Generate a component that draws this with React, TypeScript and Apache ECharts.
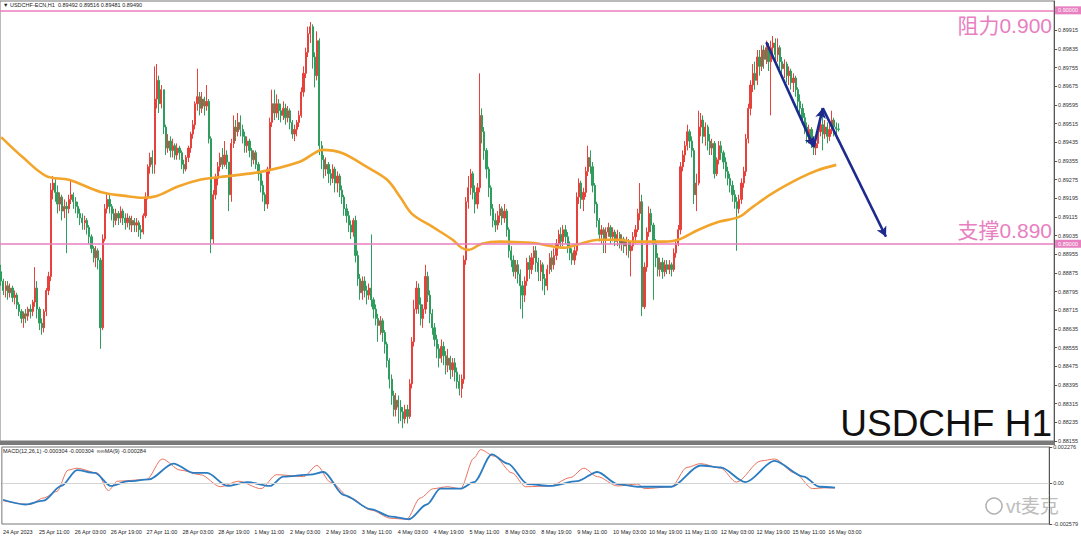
import React, { useEffect, useRef } from "react";
import * as echarts from "echarts";

// ---------- categories (hourly bars, weekends skipped) ----------
const tradingDays = ["24 Apr", "25 Apr", "26 Apr", "27 Apr", "28 Apr", "1 May", "2 May", "3 May", "4 May", "5 May", "8 May", "9 May", "10 May", "11 May", "12 May", "15 May", "16 May"];
const firstDayStartHour = 19;
const lastDayEndHour = 6;
const firstLabel = "24 Apr 2023";
const totalSlots = 467;
const labelEvery = 16;

// ---------- H1 candles (open = previous close) ----------
const firstOpen = 0.8888;
const closes = [
  0.8884, 0.8880, 0.8882, 0.8879, 0.8881, 0.8877, 0.8878, 0.8874, 0.8871, 0.8868,
  0.8870, 0.8869, 0.8872, 0.8871, 0.8875, 0.8881, 0.8872, 0.8866, 0.8864, 0.8871,
  0.8880, 0.8886, 0.8923, 0.8926, 0.8922, 0.8917, 0.8920, 0.8914, 0.8916, 0.8915,
  0.8919, 0.8921, 0.8918, 0.8916, 0.8913, 0.8911, 0.8909, 0.8910, 0.8907, 0.8903,
  0.8898, 0.8894, 0.8897, 0.8893, 0.8864, 0.8902, 0.8915, 0.8919, 0.8916, 0.8913,
  0.8910, 0.8913, 0.8911, 0.8914, 0.8911, 0.8909, 0.8911, 0.8908, 0.8910, 0.8908,
  0.8909, 0.8906, 0.8905, 0.8912, 0.8920, 0.8933, 0.8937, 0.8934, 0.8962, 0.8970,
  0.8960, 0.8966, 0.8950, 0.8941, 0.8944, 0.8940, 0.8942, 0.8938, 0.8941, 0.8939,
  0.8934, 0.8932, 0.8937, 0.8941, 0.8947, 0.8951, 0.8960, 0.8963, 0.8958, 0.8962,
  0.8959, 0.8961, 0.8945, 0.8902, 0.8921, 0.8928, 0.8933, 0.8937, 0.8934, 0.8938,
  0.8935, 0.8921, 0.8943, 0.8950, 0.8948, 0.8952, 0.8949, 0.8946, 0.8942, 0.8944,
  0.8940, 0.8936, 0.8939, 0.8934, 0.8930, 0.8925, 0.8921, 0.8917, 0.8932, 0.8952,
  0.8960, 0.8956, 0.8960, 0.8957, 0.8955, 0.8958, 0.8954, 0.8957, 0.8952, 0.8947,
  0.8949, 0.8952, 0.8955, 0.8965, 0.8973, 0.8982, 0.8990, 0.8993, 0.8980, 0.8972,
  0.8987, 0.8942, 0.8936, 0.8932, 0.8934, 0.8930, 0.8928, 0.8932, 0.8926, 0.8929,
  0.8923, 0.8920, 0.8915, 0.8912, 0.8908, 0.8905, 0.8910, 0.8895, 0.8885, 0.8879,
  0.8884, 0.8880, 0.8878, 0.8881, 0.8876, 0.8872, 0.8868, 0.8865, 0.8867, 0.8862,
  0.8857, 0.8850, 0.8842, 0.8835, 0.8829, 0.8833, 0.8830, 0.8828, 0.8825, 0.8829,
  0.8826, 0.8840, 0.8858, 0.8872, 0.8881, 0.8874, 0.8868, 0.8872, 0.8886, 0.8878,
  0.8870, 0.8864, 0.8859, 0.8855, 0.8851, 0.8856, 0.8852, 0.8848, 0.8851, 0.8846,
  0.8849, 0.8845, 0.8841, 0.8838, 0.8842, 0.8893, 0.8918, 0.8924, 0.8930, 0.8922,
  0.8917, 0.8924, 0.8955, 0.8948, 0.8940, 0.8932, 0.8924, 0.8915, 0.8910, 0.8908,
  0.8912, 0.8915, 0.8911, 0.8914, 0.8906, 0.8897, 0.8893, 0.8888, 0.8891, 0.8887,
  0.8882, 0.8878, 0.8884, 0.8892, 0.8889, 0.8894, 0.8897, 0.8892, 0.8888, 0.8891,
  0.8885, 0.8882, 0.8889, 0.8894, 0.8891, 0.8895, 0.8900, 0.8904, 0.8901, 0.8906,
  0.8903, 0.8899, 0.8896, 0.8893, 0.8897, 0.8920, 0.8926, 0.8919, 0.8922, 0.8931,
  0.8937, 0.8933, 0.8925, 0.8917, 0.8910, 0.8904, 0.8906, 0.8902, 0.8905, 0.8907,
  0.8903, 0.8905, 0.8901, 0.8904, 0.8900, 0.8902, 0.8899, 0.8901, 0.8897, 0.8899,
  0.8903, 0.8906, 0.8913, 0.8918, 0.8873, 0.8890, 0.8905, 0.8913, 0.8908, 0.8900,
  0.8894, 0.8889, 0.8892, 0.8888, 0.8891, 0.8889, 0.8891, 0.8889, 0.8896, 0.8900,
  0.8906, 0.8933, 0.8938, 0.8942, 0.8948, 0.8944, 0.8940, 0.8921, 0.8926, 0.8950,
  0.8953, 0.8946, 0.8950, 0.8944, 0.8941, 0.8943, 0.8930, 0.8936, 0.8942, 0.8939,
  0.8935, 0.8931, 0.8928, 0.8925, 0.8921, 0.8918, 0.8915, 0.8919, 0.8926, 0.8931,
  0.8945, 0.8958, 0.8968, 0.8973, 0.8970, 0.8980, 0.8976, 0.8983, 0.8979, 0.8984,
  0.8978, 0.8984, 0.8986, 0.8981, 0.8984, 0.8978, 0.8975, 0.8977, 0.8972, 0.8974,
  0.8969, 0.8971, 0.8966, 0.8961, 0.8958, 0.8954, 0.8950, 0.8946, 0.8949, 0.8944,
  0.8941, 0.8943, 0.8948, 0.8951, 0.8947, 0.8950, 0.8946, 0.8949, 0.8953, 0.8950,
  0.89492, 0.8949,
];
const highs = [
  0.8891, 0.8885, 0.8884, 0.8884, 0.8883, 0.8882, 0.8880, 0.8879, 0.8875, 0.8872,
  0.8871, 0.8872, 0.8873, 0.8874, 0.8876, 0.8890, 0.8884, 0.8873, 0.8868, 0.8872,
  0.8881, 0.8888, 0.8926, 0.8929, 0.8928, 0.8925, 0.8922, 0.8921, 0.8919, 0.8918,
  0.8921, 0.8927, 0.8922, 0.8920, 0.8918, 0.8915, 0.8913, 0.8912, 0.8911, 0.8908,
  0.8904, 0.8899, 0.8899, 0.8898, 0.8894, 0.8904, 0.8917, 0.8922, 0.8921, 0.8917,
  0.8915, 0.8915, 0.8914, 0.8916, 0.8915, 0.8913, 0.8913, 0.8912, 0.8912, 0.8911,
  0.8911, 0.8910, 0.8908, 0.8913, 0.8922, 0.8934, 0.8939, 0.8940, 0.8976, 0.8977,
  0.8972, 0.8968, 0.8966, 0.8951, 0.8947, 0.8946, 0.8945, 0.8943, 0.8943, 0.8942,
  0.8940, 0.8936, 0.8938, 0.8942, 0.8948, 0.8953, 0.8961, 0.8975, 0.8965, 0.8965,
  0.8963, 0.8968, 0.8962, 0.8946, 0.8923, 0.8930, 0.8935, 0.8939, 0.8941, 0.8944,
  0.8940, 0.8932, 0.8945, 0.8955, 0.8953, 0.8956, 0.8955, 0.8951, 0.8948, 0.8946,
  0.8945, 0.8941, 0.8940, 0.8940, 0.8935, 0.8931, 0.8927, 0.8922, 0.8933, 0.8954,
  0.8966, 0.8966, 0.8964, 0.8962, 0.8960, 0.8961, 0.8960, 0.8959, 0.8958, 0.8953,
  0.8951, 0.8953, 0.8957, 0.8967, 0.8976, 0.8984, 0.8993, 0.8995, 0.8994, 0.8982,
  0.8991, 0.8988, 0.8944, 0.8938, 0.8937, 0.8935, 0.8932, 0.8934, 0.8933, 0.8931,
  0.8930, 0.8925, 0.8921, 0.8917, 0.8914, 0.8910, 0.8911, 0.8912, 0.8897, 0.8887,
  0.8886, 0.8886, 0.8882, 0.8883, 0.8904, 0.8877, 0.8874, 0.8870, 0.8869, 0.8868,
  0.8863, 0.8858, 0.8851, 0.8844, 0.8837, 0.8836, 0.8835, 0.8833, 0.8830, 0.8831,
  0.8831, 0.8842, 0.8860, 0.8876, 0.8884, 0.8883, 0.8877, 0.8874, 0.8891, 0.8888,
  0.8880, 0.8872, 0.8866, 0.8861, 0.8857, 0.8859, 0.8858, 0.8854, 0.8855, 0.8852,
  0.8851, 0.8851, 0.8847, 0.8844, 0.8844, 0.8895, 0.8920, 0.8929, 0.8932, 0.8931,
  0.8925, 0.8926, 0.8973, 0.8958, 0.8950, 0.8941, 0.8933, 0.8925, 0.8917, 0.8913,
  0.8914, 0.8917, 0.8916, 0.8917, 0.8915, 0.8907, 0.8899, 0.8895, 0.8893, 0.8893,
  0.8889, 0.8884, 0.8886, 0.8894, 0.8895, 0.8896, 0.8899, 0.8899, 0.8894, 0.8893,
  0.8892, 0.8887, 0.8891, 0.8896, 0.8897, 0.8898, 0.8902, 0.8906, 0.8907, 0.8908,
  0.8908, 0.8905, 0.8901, 0.8898, 0.8899, 0.8922, 0.8928, 0.8927, 0.8924, 0.8933,
  0.8942, 0.8940, 0.8935, 0.8926, 0.8918, 0.8911, 0.8908, 0.8907, 0.8907, 0.8909,
  0.8908, 0.8907, 0.8906, 0.8906, 0.8905, 0.8904, 0.8903, 0.8903, 0.8902, 0.8901,
  0.8905, 0.8908, 0.8915, 0.8926, 0.8921, 0.8892, 0.8907, 0.8916, 0.8915, 0.8909,
  0.8902, 0.8896, 0.8894, 0.8894, 0.8893, 0.8893, 0.8893, 0.8892, 0.8898, 0.8902,
  0.8908, 0.8935, 0.8940, 0.8944, 0.8951, 0.8949, 0.8946, 0.8941, 0.8930, 0.8957,
  0.8956, 0.8955, 0.8952, 0.8951, 0.8947, 0.8945, 0.8944, 0.8937, 0.8944, 0.8944,
  0.8940, 0.8937, 0.8933, 0.8930, 0.8927, 0.8923, 0.8920, 0.8921, 0.8928, 0.8933,
  0.8947, 0.8960, 0.8970, 0.8977, 0.8978, 0.8983, 0.8983, 0.8985, 0.8985, 0.8987,
  0.8986, 0.8987, 0.8989, 0.8988, 0.8988, 0.8985, 0.8980, 0.8979, 0.8978, 0.8976,
  0.8975, 0.8973, 0.8972, 0.8967, 0.8964, 0.8960, 0.8956, 0.8952, 0.8951, 0.8950,
  0.8946, 0.8945, 0.8950, 0.8953, 0.8955, 0.8953, 0.8952, 0.8951, 0.8957, 0.8954,
  0.8952, 0.89516,
];
const lows = [
  0.8882, 0.8878, 0.8877, 0.8876, 0.8877, 0.8875, 0.8874, 0.8872, 0.8869, 0.8866,
  0.8864, 0.8866, 0.8867, 0.8868, 0.8869, 0.8873, 0.8868, 0.8863, 0.8861, 0.8862,
  0.8869, 0.8878, 0.8884, 0.8919, 0.8918, 0.8913, 0.8914, 0.8910, 0.8911, 0.8896,
  0.8913, 0.8917, 0.8915, 0.8913, 0.8911, 0.8908, 0.8906, 0.8906, 0.8904, 0.8900,
  0.8896, 0.8892, 0.8890, 0.8889, 0.8855, 0.8863, 0.8901, 0.8913, 0.8913, 0.8910,
  0.8907, 0.8908, 0.8908, 0.8909, 0.8908, 0.8906, 0.8907, 0.8906, 0.8905, 0.8905,
  0.8905, 0.8903, 0.8902, 0.8904, 0.8911, 0.8919, 0.8930, 0.8930, 0.8930, 0.8958,
  0.8956, 0.8958, 0.8947, 0.8938, 0.8939, 0.8937, 0.8937, 0.8936, 0.8936, 0.8936,
  0.8932, 0.8930, 0.8931, 0.8935, 0.8939, 0.8945, 0.8949, 0.8957, 0.8955, 0.8956,
  0.8955, 0.8957, 0.8943, 0.8896, 0.8900, 0.8919, 0.8925, 0.8931, 0.8932, 0.8933,
  0.8932, 0.8914, 0.8918, 0.8941, 0.8944, 0.8946, 0.8946, 0.8943, 0.8939, 0.8939,
  0.8937, 0.8933, 0.8934, 0.8932, 0.8927, 0.8922, 0.8918, 0.8914, 0.8915, 0.8930,
  0.8950, 0.8953, 0.8954, 0.8953, 0.8952, 0.8953, 0.8951, 0.8952, 0.8949, 0.8945,
  0.8944, 0.8946, 0.8950, 0.8954, 0.8963, 0.8971, 0.8980, 0.8986, 0.8975, 0.8967,
  0.8970, 0.8938, 0.8932, 0.8928, 0.8929, 0.8926, 0.8925, 0.8926, 0.8922, 0.8922,
  0.8920, 0.8917, 0.8912, 0.8909, 0.8905, 0.8902, 0.8903, 0.8892, 0.8882, 0.8876,
  0.8876, 0.8877, 0.8874, 0.8876, 0.8873, 0.8868, 0.8865, 0.8858, 0.8861, 0.8858,
  0.8853, 0.8847, 0.8838, 0.8831, 0.8826, 0.8826, 0.8823, 0.8824, 0.8821, 0.8823,
  0.8823, 0.8825, 0.8838, 0.8856, 0.8870, 0.8870, 0.8865, 0.8864, 0.8870, 0.8875,
  0.8866, 0.8861, 0.8856, 0.8851, 0.8847, 0.8849, 0.8848, 0.8844, 0.8845, 0.8842,
  0.8843, 0.8841, 0.8838, 0.8835, 0.8834, 0.8840, 0.8891, 0.8915, 0.8921, 0.8919,
  0.8913, 0.8915, 0.8922, 0.8943, 0.8936, 0.8928, 0.8920, 0.8912, 0.8907, 0.8905,
  0.8906, 0.8909, 0.8908, 0.8909, 0.8903, 0.8894, 0.8890, 0.8886, 0.8885, 0.8883,
  0.8872, 0.8868, 0.8875, 0.8882, 0.8885, 0.8887, 0.8891, 0.8888, 0.8884, 0.8884,
  0.8880, 0.8878, 0.8880, 0.8887, 0.8888, 0.8889, 0.8893, 0.8898, 0.8898, 0.8899,
  0.8900, 0.8896, 0.8893, 0.8891, 0.8891, 0.8895, 0.8917, 0.8915, 0.8914, 0.8920,
  0.8929, 0.8930, 0.8922, 0.8913, 0.8907, 0.8901, 0.8900, 0.8896, 0.8896, 0.8903,
  0.8900, 0.8901, 0.8899, 0.8899, 0.8898, 0.8897, 0.8896, 0.8895, 0.8894, 0.8886,
  0.8897, 0.8900, 0.8905, 0.8910, 0.8869, 0.8872, 0.8888, 0.8903, 0.8905, 0.8876,
  0.8890, 0.8886, 0.8886, 0.8885, 0.8886, 0.8887, 0.8887, 0.8886, 0.8888, 0.8894,
  0.8899, 0.8904, 0.8931, 0.8935, 0.8940, 0.8941, 0.8937, 0.8917, 0.8914, 0.8925,
  0.8946, 0.8943, 0.8942, 0.8940, 0.8938, 0.8938, 0.8928, 0.8929, 0.8934, 0.8936,
  0.8932, 0.8928, 0.8925, 0.8922, 0.8918, 0.8915, 0.8897, 0.8913, 0.8917, 0.8924,
  0.8929, 0.8943, 0.8955, 0.8965, 0.8966, 0.8968, 0.8972, 0.8974, 0.8975, 0.8977,
  0.8974, 0.8955, 0.8979, 0.8977, 0.8978, 0.8975, 0.8972, 0.8971, 0.8969, 0.8968,
  0.8966, 0.8965, 0.8963, 0.8958, 0.8955, 0.8951, 0.8947, 0.8943, 0.8943, 0.8941,
  0.8938, 0.8938, 0.8941, 0.8946, 0.8940, 0.8945, 0.8943, 0.8944, 0.8947, 0.8946,
  0.8945, 0.89481,
];

// ---------- moving average (orange), read at sample bars ----------
const maBars = [0, 10, 20, 30, 44, 55, 63, 69, 78, 88, 97, 115, 132, 139, 142, 151, 162, 171, 177, 182, 191, 200, 204, 207, 213, 221, 235, 250, 255, 265, 274, 280, 294, 300, 309, 318, 327, 333, 342, 354, 362, 370];
const maValues = [0.89457, 0.89367, 0.8929, 0.89274, 0.89222, 0.89205, 0.89197, 0.89205, 0.89244, 0.89274, 0.89286, 0.89308, 0.8935, 0.89389, 0.89402, 0.89389, 0.89329, 0.89274, 0.89197, 0.89128, 0.89073, 0.89017, 0.88983, 0.88974, 0.89, 0.89009, 0.89004, 0.88983, 0.88996, 0.89017, 0.89017, 0.89009, 0.89009, 0.89017, 0.8906, 0.89094, 0.89115, 0.89158, 0.89218, 0.89282, 0.89316, 0.89338];

// ---------- MACD panel ----------
const macdBars = [0, 12, 18, 24, 29, 33, 42, 47, 51, 64, 71, 79, 88, 97, 105, 115, 122, 134, 140, 146, 155, 164, 173, 180, 186, 192, 198, 204, 210, 213, 219, 227, 233, 244, 253, 259, 265, 274, 283, 286, 298, 305, 311, 320, 327, 338, 344, 353, 361, 366, 371];
const macdValues = [-0.00111, -0.00135, -0.00094, -0.00053, 0.00082, 0.00094, 0.00064, -0.00047, 0.00012, 0.00023, 0.00152, 0.00082, 0.00053, -0.00023, 0.00012, -0.00035, 0.00053, 0.00041, 0.00111, 0.00006, -0.00094, -0.0017, -0.00222, -0.00228, -0.00094, -0.00035, -0.00023, -0.00035, 0.00158, 0.00211, 0.0017, 0.00064, -0.00023, -0.00018, 0.00035, 0.00094, 0.00041, -0.00018, -0.00006, -0.00035, -0.00023, 0.00099, 0.00123, 0.00094, 0.00006, 0.0014, 0.00152, 0.00064, -0.00035, -0.0003, -0.000304];
const signalBars = [0, 10, 18, 26, 33, 41, 48, 56, 65, 76, 85, 91, 100, 109, 119, 125, 137, 143, 152, 164, 173, 181, 189, 195, 204, 210, 218, 225, 234, 244, 256, 265, 274, 283, 298, 311, 320, 331, 344, 357, 364, 371];
const signalValues = [-0.00105, -0.00135, -0.00111, -0.00018, 0.00082, 0.00064, -0.00018, 0.00012, 0.00023, 0.00123, 0.00064, 0.00064, -0.00018, 0.00006, -0.00018, 0.00041, 0.00053, 0.0007, -0.00076, -0.00164, -0.00211, -0.00228, -0.00135, -0.00035, -0.00035, 0.00006, 0.00181, 0.00123, -0.00006, -0.00018, 0.00012, 0.0007, -0.00006, -0.00023, -0.00023, 0.00111, 0.00099, 0.00006, 0.0014, 0.00041, -0.00023, -0.000284];
const macdMin = -0.002579;
const macdMax = 0.002276;

// ---------- price scale / levels ----------
const priceMin = 0.88155;
const priceMax = 0.9004;
const priceTickPoints = 80; // 0.00080 between labels
const resistance = 0.9;
const support = 0.89;
const lastPrice = 0.8949;

// hand-drawn forecast arrow (bar index, price)
const arrowBars = [339, 360, 364, 392];
const arrowPrices = [0.89863, 0.89415, 0.89581, 0.8903];

const headerText = "USDCHF-ECN,H1  0.89492 0.89516 0.89481 0.89490";
const macdHeader = "MACD(12,26,1) -0.000304 -0.000304  ∞∞MA(9) -0.000284";

const PINK = "#e87fc1";
const NAVY = "#1c2a8e";
const UP = "#e6413a";
const DOWN = "#2f9d5d";
const FONT = "'Liberation Sans', Arial, sans-serif";
const CJK = "'Liberation Sans', 'Noto Sans CJK SC', sans-serif";

function buildCategories(): string[] {
  const cats: string[] = [];
  tradingDays.forEach((d, di) => {
    const h0 = di === 0 ? firstDayStartHour : 0;
    const h1 = di === tradingDays.length - 1 ? lastDayEndHour : 23;
    for (let h = h0; h <= h1; h++) cats.push(`${d} ${String(h).padStart(2, "0")}:00`);
  });
  cats[0] = firstLabel;
  while (cats.length < totalSlots) cats.push("");
  return cats;
}

export default function App() {
  const ref = useRef<HTMLDivElement>(null);

  useEffect(() => {
    if (!ref.current) return;
    const chart = echarts.init(ref.current, null, { renderer: "svg" });
    const categories = buildCategories();
    const n = Math.min(closes.length, highs.length, lows.length);
    const candles = [];
    for (let i = 0; i < n; i++) {
      const o = i === 0 ? firstOpen : closes[i - 1];
      const c = closes[i];
      candles.push([o, c, Math.min(lows[i], o, c), Math.max(highs[i], o, c)]);
    }
    const pointsSpan = Math.round((priceMax - priceMin) * 100000);
    const basePoints = Math.round(priceMin * 100000);

    const levelLabel = (txt: string, bg: string) => ({
      show: true,
      position: "end" as const,
      distance: 1,
      formatter: txt,
      color: "#fff",
      backgroundColor: bg,
      fontSize: 5.5,
      fontFamily: FONT,
      padding: [1, 3, 1, 3],
    });

    const arrowLines: any[] = [];
    for (let k = 0; k < arrowBars.length - 1; k++) {
      arrowLines.push([
        { coord: [arrowBars[k], arrowPrices[k]], symbol: "none", lineStyle: { color: NAVY, width: 2.6, type: "solid" } },
        { coord: [arrowBars[k + 1], arrowPrices[k + 1]], symbol: "arrow", symbolSize: [8, 10], lineStyle: { color: NAVY, width: 2.6, type: "solid" } },
      ]);
    }

    const option: any = {
      animation: false,
      backgroundColor: "#ffffff",
      textStyle: { fontFamily: FONT },
      grid: [
        { left: 0, right: 26, top: 1, bottom: 102, show: true, borderColor: "#777", borderWidth: 1 },
        { left: 0, right: 26, top: 447, bottom: 19, show: true, borderColor: "#777", borderWidth: 1 },
      ],
      xAxis: [
        { type: "category", gridIndex: 0, data: categories, show: false },
        {
          type: "category",
          gridIndex: 1,
          data: categories,
          axisLine: { lineStyle: { color: "#555", width: 1 } },
          axisTick: { alignWithLabel: true, interval: (i: number) => i % labelEvery === 0, length: 3, lineStyle: { color: "#555" } },
          axisLabel: { interval: (i: number) => i % labelEvery === 0, fontSize: 5.5, color: "#222", align: "left", margin: 5, fontFamily: FONT },
          splitLine: { show: false },
        },
      ],
      yAxis: [
        { type: "value", gridIndex: 0, min: priceMin, max: priceMax, show: false, scale: true },
        {
          type: "value",
          gridIndex: 0,
          position: "right",
          min: 0,
          max: pointsSpan,
          interval: priceTickPoints,
          axisLine: { show: true, lineStyle: { color: "#555" } },
          axisTick: { show: true, length: 3, lineStyle: { color: "#555" } },
          splitLine: { show: false },
          axisLabel: {
            fontSize: 5.5,
            color: "#333",
            margin: 4,
            showMaxLabel: false,
            fontFamily: FONT,
            formatter: (v: number) => (v > pointsSpan - 60 ? "" : ((basePoints + v) / 100000).toFixed(5)),
          },
        },
        {
          type: "value",
          gridIndex: 1,
          position: "right",
          min: macdMin,
          max: macdMax,
          axisLine: { show: true, lineStyle: { color: "#555" } },
          axisTick: { show: true, length: 3, customValues: [macdMin, 0, macdMax], lineStyle: { color: "#555" } },
          splitLine: { show: false },
          axisLabel: {
            fontSize: 5.5,
            color: "#333",
            margin: 4,
            fontFamily: FONT,
            customValues: [macdMin, 0, macdMax],
            formatter: (v: number) => (Math.abs(v) < 1e-9 ? "0.00" : v.toFixed(6)),
          },
        },
      ],
      series: [
        {
          type: "candlestick",
          xAxisIndex: 0,
          yAxisIndex: 0,
          data: candles,
          barWidth: 1.7,
          itemStyle: { color: UP, color0: DOWN, borderColor: UP, borderColor0: DOWN, borderWidth: 1 },
          z: 2,
          markLine: {
            silent: true,
            symbol: "none",
            animation: false,
            data: [
              { yAxis: resistance, lineStyle: { color: PINK, width: 1.5, type: "solid" }, label: levelLabel("0.90000", PINK) },
              { yAxis: support, lineStyle: { color: PINK, width: 1.5, type: "solid" }, label: levelLabel("0.89000", PINK) },
              { yAxis: lastPrice, lineStyle: { opacity: 0, width: 0 }, label: levelLabel("0.89490", "#111") },
              ...arrowLines,
            ],
          },
        },
        {
          type: "line",
          xAxisIndex: 0,
          yAxisIndex: 0,
          data: maBars.map((b, i) => [b, maValues[i]]),
          smooth: 0.35,
          showSymbol: false,
          symbol: "none",
          lineStyle: { color: "#f2a52a", width: 2.6 },
          z: 3,
        },
        {
          type: "line",
          xAxisIndex: 1,
          yAxisIndex: 2,
          data: macdBars.map((b, i) => [b, macdValues[i]]),
          smooth: 0.3,
          smoothMonotone: "x",
          symbol: "none",
          lineStyle: { color: "#e8735f", width: 1 },
          z: 3,
          markLine: {
            silent: true,
            symbol: "none",
            label: { show: false },
            lineStyle: { color: "#d4d4d4", width: 1, type: "solid" },
            data: [{ yAxis: 0 }],
          },
        },
        {
          type: "line",
          xAxisIndex: 1,
          yAxisIndex: 2,
          data: signalBars.map((b, i) => [b, signalValues[i]]),
          smooth: 0.3,
          smoothMonotone: "x",
          symbol: "none",
          lineStyle: { color: "#2b7cc1", width: 1.8 },
          z: 4,
        },
      ],
      graphic: [
        { type: "rect", left: 0, top: 441, shape: { width: 1055, height: 4 }, style: { fill: "#7a7a7a" }, silent: true },
        { type: "text", x: 3, y: 5, style: { text: "▼ " + headerText, fontSize: 5.5, fontFamily: FONT, fill: "#222", verticalAlign: "middle" } },
        { type: "text", x: 3, y: 451, style: { text: macdHeader, fontSize: 5.5, fontFamily: FONT, fill: "#222", verticalAlign: "middle" } },
        { type: "text", x: 1052, y: 25, style: { text: "阻力0.900", fontSize: 21, fontFamily: CJK, fill: PINK, align: "right", verticalAlign: "middle" } },
        { type: "text", x: 1052, y: 230, style: { text: "支撑0.890", fontSize: 21, fontFamily: CJK, fill: PINK, align: "right", verticalAlign: "middle" } },
        { type: "text", x: 1052, y: 423, style: { text: "USDCHF H1", fontSize: 37, fontFamily: FONT, fill: "#111", align: "right", verticalAlign: "middle" } },
        { type: "circle", shape: { cx: 994, cy: 506, r: 8 }, style: { fill: "none", stroke: "#b0b0b0", lineWidth: 1.5 }, silent: true },
        { type: "text", x: 1006, y: 506, style: { text: "vt麦克", fontSize: 19, fontFamily: CJK, fill: "#bdbdbd", stroke: "#fff", lineWidth: 1, verticalAlign: "middle" } },
      ],
    };

    chart.setOption(option);
    return () => chart.dispose();
  }, []);

  return (
    <div
      ref={ref}
      style={{ position: "fixed", left: 0, top: 0, width: 1081, height: 543, background: "#fff" }}
    />
  );
}
